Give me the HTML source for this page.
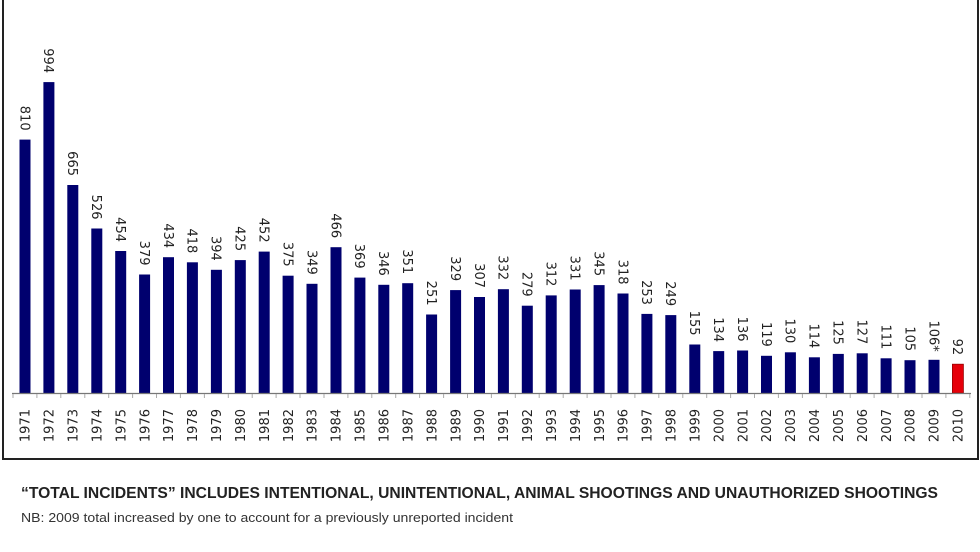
<!DOCTYPE html>
<html><head><meta charset="utf-8"><style>
html,body{margin:0;padding:0;background:#fff;}
svg{display:block;}
.v{font-family:"DejaVu Sans",sans-serif;font-size:13px;fill:#222;}
.y{font-family:"DejaVu Sans",sans-serif;font-size:13px;fill:#222;}
</style></head><body>
<svg width="980" height="552" viewBox="0 0 980 552" xmlns="http://www.w3.org/2000/svg">
<rect width="980" height="552" fill="#fff"/>
<path d="M3,0 V459 H978 V0" fill="none" stroke="#222" stroke-width="2"/>
<g fill="#00006e">
<rect x="19.5" y="139.6" width="11" height="253.4"/>
<rect x="43.4" y="82.1" width="11" height="310.9"/>
<rect x="67.3" y="185.0" width="11" height="208.0"/>
<rect x="91.3" y="228.5" width="11" height="164.5"/>
<rect x="115.2" y="251.0" width="11" height="142.0"/>
<rect x="139.1" y="274.5" width="11" height="118.5"/>
<rect x="163.0" y="257.2" width="11" height="135.8"/>
<rect x="186.9" y="262.3" width="11" height="130.7"/>
<rect x="210.9" y="269.8" width="11" height="123.2"/>
<rect x="234.8" y="260.1" width="11" height="132.9"/>
<rect x="258.7" y="251.6" width="11" height="141.4"/>
<rect x="282.6" y="275.7" width="11" height="117.3"/>
<rect x="306.5" y="283.8" width="11" height="109.2"/>
<rect x="330.5" y="247.2" width="11" height="145.8"/>
<rect x="354.4" y="277.6" width="11" height="115.4"/>
<rect x="378.3" y="284.8" width="11" height="108.2"/>
<rect x="402.2" y="283.2" width="11" height="109.8"/>
<rect x="426.1" y="314.5" width="11" height="78.5"/>
<rect x="450.1" y="290.1" width="11" height="102.9"/>
<rect x="474.0" y="297.0" width="11" height="96.0"/>
<rect x="497.9" y="289.2" width="11" height="103.8"/>
<rect x="521.8" y="305.7" width="11" height="87.3"/>
<rect x="545.7" y="295.4" width="11" height="97.6"/>
<rect x="569.7" y="289.5" width="11" height="103.5"/>
<rect x="593.6" y="285.1" width="11" height="107.9"/>
<rect x="617.5" y="293.5" width="11" height="99.5"/>
<rect x="641.4" y="313.9" width="11" height="79.1"/>
<rect x="665.3" y="315.1" width="11" height="77.9"/>
<rect x="689.3" y="344.5" width="11" height="48.5"/>
<rect x="713.2" y="351.1" width="11" height="41.9"/>
<rect x="737.1" y="350.5" width="11" height="42.5"/>
<rect x="761.0" y="355.8" width="11" height="37.2"/>
<rect x="784.9" y="352.3" width="11" height="40.7"/>
<rect x="808.9" y="357.3" width="11" height="35.7"/>
<rect x="832.8" y="353.9" width="11" height="39.1"/>
<rect x="856.7" y="353.3" width="11" height="39.7"/>
<rect x="880.6" y="358.3" width="11" height="34.7"/>
<rect x="904.5" y="360.2" width="11" height="32.8"/>
<rect x="928.5" y="359.8" width="11" height="33.2"/>
</g>
<rect x="952.4" y="364.2" width="11" height="28.8" fill="#e6000a" stroke="#900" stroke-width="0.8"/>
<line x1="12" y1="393.5" x2="971" y2="393.5" stroke="#777" stroke-width="1.2"/>
<g stroke="#aaa" stroke-width="1">
<line x1="13" y1="394" x2="13" y2="398"/><line x1="36.9" y1="394" x2="36.9" y2="398"/><line x1="60.8" y1="394" x2="60.8" y2="398"/><line x1="84.8" y1="394" x2="84.8" y2="398"/><line x1="108.7" y1="394" x2="108.7" y2="398"/><line x1="132.6" y1="394" x2="132.6" y2="398"/><line x1="156.5" y1="394" x2="156.5" y2="398"/><line x1="180.4" y1="394" x2="180.4" y2="398"/><line x1="204.4" y1="394" x2="204.4" y2="398"/><line x1="228.3" y1="394" x2="228.3" y2="398"/><line x1="252.2" y1="394" x2="252.2" y2="398"/><line x1="276.1" y1="394" x2="276.1" y2="398"/><line x1="300" y1="394" x2="300" y2="398"/><line x1="324" y1="394" x2="324" y2="398"/><line x1="347.9" y1="394" x2="347.9" y2="398"/><line x1="371.8" y1="394" x2="371.8" y2="398"/><line x1="395.7" y1="394" x2="395.7" y2="398"/><line x1="419.6" y1="394" x2="419.6" y2="398"/><line x1="443.6" y1="394" x2="443.6" y2="398"/><line x1="467.5" y1="394" x2="467.5" y2="398"/><line x1="491.4" y1="394" x2="491.4" y2="398"/><line x1="515.3" y1="394" x2="515.3" y2="398"/><line x1="539.2" y1="394" x2="539.2" y2="398"/><line x1="563.2" y1="394" x2="563.2" y2="398"/><line x1="587.1" y1="394" x2="587.1" y2="398"/><line x1="611" y1="394" x2="611" y2="398"/><line x1="634.9" y1="394" x2="634.9" y2="398"/><line x1="658.8" y1="394" x2="658.8" y2="398"/><line x1="682.8" y1="394" x2="682.8" y2="398"/><line x1="706.7" y1="394" x2="706.7" y2="398"/><line x1="730.6" y1="394" x2="730.6" y2="398"/><line x1="754.5" y1="394" x2="754.5" y2="398"/><line x1="778.4" y1="394" x2="778.4" y2="398"/><line x1="802.4" y1="394" x2="802.4" y2="398"/><line x1="826.3" y1="394" x2="826.3" y2="398"/><line x1="850.2" y1="394" x2="850.2" y2="398"/><line x1="874.1" y1="394" x2="874.1" y2="398"/><line x1="898" y1="394" x2="898" y2="398"/><line x1="922" y1="394" x2="922" y2="398"/><line x1="945.9" y1="394" x2="945.9" y2="398"/><line x1="969.8" y1="394" x2="969.8" y2="398"/>
</g>
<g class="v" text-anchor="end">
<text transform="translate(20.3,130.6) rotate(90)">810</text>
<text transform="translate(44.2,73.1) rotate(90)">994</text>
<text transform="translate(68.1,176.0) rotate(90)">665</text>
<text transform="translate(92.1,219.5) rotate(90)">526</text>
<text transform="translate(116.0,242.0) rotate(90)">454</text>
<text transform="translate(139.9,265.5) rotate(90)">379</text>
<text transform="translate(163.8,248.2) rotate(90)">434</text>
<text transform="translate(187.7,253.3) rotate(90)">418</text>
<text transform="translate(211.7,260.8) rotate(90)">394</text>
<text transform="translate(235.6,251.1) rotate(90)">425</text>
<text transform="translate(259.5,242.6) rotate(90)">452</text>
<text transform="translate(283.4,266.7) rotate(90)">375</text>
<text transform="translate(307.3,274.8) rotate(90)">349</text>
<text transform="translate(331.3,238.2) rotate(90)">466</text>
<text transform="translate(355.2,268.6) rotate(90)">369</text>
<text transform="translate(379.1,275.8) rotate(90)">346</text>
<text transform="translate(403.0,274.2) rotate(90)">351</text>
<text transform="translate(426.9,305.5) rotate(90)">251</text>
<text transform="translate(450.9,281.1) rotate(90)">329</text>
<text transform="translate(474.8,288.0) rotate(90)">307</text>
<text transform="translate(498.7,280.2) rotate(90)">332</text>
<text transform="translate(522.6,296.7) rotate(90)">279</text>
<text transform="translate(546.5,286.4) rotate(90)">312</text>
<text transform="translate(570.5,280.5) rotate(90)">331</text>
<text transform="translate(594.4,276.1) rotate(90)">345</text>
<text transform="translate(618.3,284.5) rotate(90)">318</text>
<text transform="translate(642.2,304.9) rotate(90)">253</text>
<text transform="translate(666.1,306.1) rotate(90)">249</text>
<text transform="translate(690.1,335.5) rotate(90)">155</text>
<text transform="translate(714.0,342.1) rotate(90)">134</text>
<text transform="translate(737.9,341.5) rotate(90)">136</text>
<text transform="translate(761.8,346.8) rotate(90)">119</text>
<text transform="translate(785.7,343.3) rotate(90)">130</text>
<text transform="translate(809.7,348.3) rotate(90)">114</text>
<text transform="translate(833.6,344.9) rotate(90)">125</text>
<text transform="translate(857.5,344.3) rotate(90)">127</text>
<text transform="translate(881.4,349.3) rotate(90)">111</text>
<text transform="translate(905.3,351.2) rotate(90)">105</text>
<text transform="translate(929.3,351.8) rotate(90)">106*</text>
<text transform="translate(953.2,355.2) rotate(90)">92</text>
</g>
<g class="y" text-anchor="end">
<text transform="translate(29.7,409) rotate(-90)">1971</text>
<text transform="translate(53.6,409) rotate(-90)">1972</text>
<text transform="translate(77.5,409) rotate(-90)">1973</text>
<text transform="translate(101.5,409) rotate(-90)">1974</text>
<text transform="translate(125.4,409) rotate(-90)">1975</text>
<text transform="translate(149.3,409) rotate(-90)">1976</text>
<text transform="translate(173.2,409) rotate(-90)">1977</text>
<text transform="translate(197.1,409) rotate(-90)">1978</text>
<text transform="translate(221.1,409) rotate(-90)">1979</text>
<text transform="translate(245.0,409) rotate(-90)">1980</text>
<text transform="translate(268.9,409) rotate(-90)">1981</text>
<text transform="translate(292.8,409) rotate(-90)">1982</text>
<text transform="translate(316.7,409) rotate(-90)">1983</text>
<text transform="translate(340.7,409) rotate(-90)">1984</text>
<text transform="translate(364.6,409) rotate(-90)">1985</text>
<text transform="translate(388.5,409) rotate(-90)">1986</text>
<text transform="translate(412.4,409) rotate(-90)">1987</text>
<text transform="translate(436.3,409) rotate(-90)">1988</text>
<text transform="translate(460.3,409) rotate(-90)">1989</text>
<text transform="translate(484.2,409) rotate(-90)">1990</text>
<text transform="translate(508.1,409) rotate(-90)">1991</text>
<text transform="translate(532.0,409) rotate(-90)">1992</text>
<text transform="translate(555.9,409) rotate(-90)">1993</text>
<text transform="translate(579.9,409) rotate(-90)">1994</text>
<text transform="translate(603.8,409) rotate(-90)">1995</text>
<text transform="translate(627.7,409) rotate(-90)">1996</text>
<text transform="translate(651.6,409) rotate(-90)">1997</text>
<text transform="translate(675.5,409) rotate(-90)">1998</text>
<text transform="translate(699.5,409) rotate(-90)">1999</text>
<text transform="translate(723.4,409) rotate(-90)">2000</text>
<text transform="translate(747.3,409) rotate(-90)">2001</text>
<text transform="translate(771.2,409) rotate(-90)">2002</text>
<text transform="translate(795.1,409) rotate(-90)">2003</text>
<text transform="translate(819.1,409) rotate(-90)">2004</text>
<text transform="translate(843.0,409) rotate(-90)">2005</text>
<text transform="translate(866.9,409) rotate(-90)">2006</text>
<text transform="translate(890.8,409) rotate(-90)">2007</text>
<text transform="translate(914.7,409) rotate(-90)">2008</text>
<text transform="translate(938.7,409) rotate(-90)">2009</text>
<text transform="translate(962.6,409) rotate(-90)">2010</text>
</g>
<text x="21" y="498" font-family="'Liberation Sans',Arial,sans-serif" font-weight="bold" font-size="15.5" fill="#222" textLength="917" lengthAdjust="spacingAndGlyphs">“TOTAL INCIDENTS” INCLUDES INTENTIONAL, UNINTENTIONAL, ANIMAL SHOOTINGS AND UNAUTHORIZED SHOOTINGS</text>
<text x="21" y="522" font-family="'Liberation Sans',Arial,sans-serif" font-size="12.5" fill="#333" textLength="492" lengthAdjust="spacingAndGlyphs">NB: 2009 total increased by one to account for a previously unreported incident</text>
</svg>
</body></html>
